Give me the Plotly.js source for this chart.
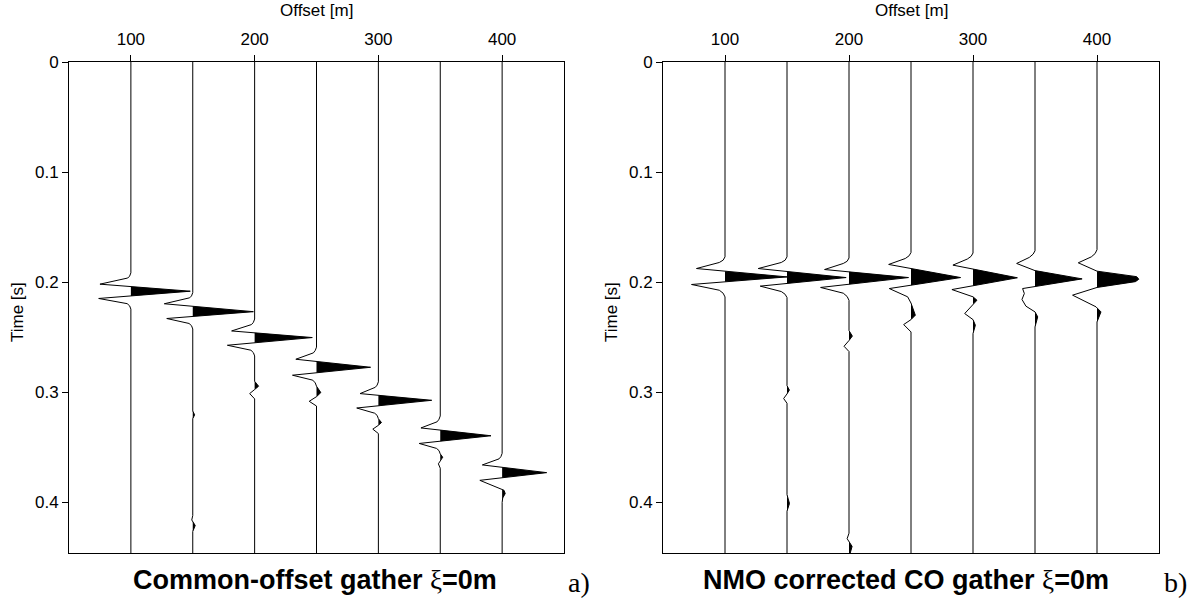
<!DOCTYPE html>
<html>
<head>
<meta charset="utf-8">
<script src="https://cdn.plot.ly/plotly-3.0.1.min.js"></script>
<style>
  html, body { margin: 0; padding: 0; background: #fff; }
  #chart { width: 1192px; height: 600px; }
</style>
</head>
<body>
<div id="chart"></div>
<script>
// Trace positions (offset in m) shared by both gathers
const offsets = [100, 150, 200, 250, 300, 350, 400];

// Common-offset gather: sample times [s] and trace amplitudes [m of offset axis]
const coTimes = [
  [0, 0.1915, 0.1945, 0.1962, 0.2018, 0.2082, 0.2148, 0.2195, 0.2215, 0.2245, 0.446],
  [0, 0.2095, 0.2125, 0.2142, 0.2196, 0.2268, 0.2330, 0.2375, 0.2395, 0.2425, 0.3170, 0.3205, 0.3240, 0.4120, 0.4160, 0.4210, 0.4265, 0.446],
  [0, 0.2335, 0.2365, 0.2385, 0.2443, 0.2503, 0.2573, 0.2618, 0.2640, 0.2670, 0.2900, 0.2945, 0.2975, 0.3012, 0.3060, 0.446],
  [0, 0.2590, 0.2620, 0.2642, 0.2700, 0.2773, 0.2845, 0.2890, 0.2915, 0.2945, 0.3003, 0.3040, 0.3082, 0.3125, 0.446],
  [0, 0.2905, 0.2935, 0.2955, 0.3012, 0.3073, 0.3143, 0.3190, 0.3210, 0.3240, 0.3275, 0.3300, 0.3335, 0.3375, 0.446],
  [0, 0.3215, 0.3245, 0.3268, 0.3324, 0.3395, 0.3465, 0.3510, 0.3530, 0.3560, 0.3590, 0.3620, 0.3650, 0.3690, 0.446],
  [0, 0.3555, 0.3585, 0.3605, 0.3660, 0.3730, 0.3800, 0.3890, 0.3920, 0.3960, 0.4000, 0.446]
];
const coAmps = [
  [0, 0, -1.0, -2.5, -25, 48, -26, -3.0, -1.0, 0, 0],
  [0, 0, -1.0, -2.5, -23, 49, -21, -3.0, -1.0, 0, 0, 1.5, 0, 0, -0.8, 2.0, 0, 0],
  [0, 0, -1.0, -2.5, -18.6, 46.6, -22, -3.0, -1.0, 0, 0, 3.2, 0, -4.0, 0, 0],
  [0, 0, -1.0, -2.5, -16.7, 43.7, -19.4, -3.0, -1.0, 0, 3.5, 0, -5.9, 0, 0],
  [0, 0, -1.0, -2.5, -14.8, 43.1, -17.5, -3.0, -1.0, 0, 2.5, 0, -4.5, 0, 0],
  [0, 0, -1.0, -2.5, -15.6, 41, -17, -3.0, -1.0, 0, 2.0, 0, -1.5, 0, 0],
  [0, 0, -1.0, -2.5, -16, 36, -18, 1.5, 2.5, 0.5, 0, 0]
];

// NMO-corrected common-offset gather
const nmoTimes = [
  [0, 0.1770, 0.1800, 0.1821, 0.1876, 0.1952, 0.2021, 0.2073, 0.2100, 0.2134, 0.446],
  [0, 0.1770, 0.1800, 0.1821, 0.1876, 0.1958, 0.2036, 0.2085, 0.2110, 0.2140, 0.2940, 0.2980, 0.3015, 0.3057, 0.3100, 0.3930, 0.4010, 0.4080, 0.446],
  [0, 0.1780, 0.1810, 0.1830, 0.1885, 0.1958, 0.2048, 0.2100, 0.2130, 0.2165, 0.2440, 0.2490, 0.2530, 0.2582, 0.2630, 0.4280, 0.4330, 0.4400, 0.446],
  [0, 0.1730, 0.1760, 0.1785, 0.1839, 0.1958, 0.2058, 0.2133, 0.2190, 0.2300, 0.2340, 0.2385, 0.2452, 0.446],
  [0, 0.1735, 0.1765, 0.1790, 0.1845, 0.1960, 0.2067, 0.2133, 0.2164, 0.2200, 0.2285, 0.2340, 0.2391, 0.2467, 0.446],
  [0, 0.1715, 0.1745, 0.1775, 0.1830, 0.1895, 0.1970, 0.2058, 0.2103, 0.2157, 0.2218, 0.2270, 0.2315, 0.2406, 0.446],
  [0, 0.1705, 0.1740, 0.1770, 0.1824, 0.1900, 0.1950, 0.1973, 0.1995, 0.2048, 0.2118, 0.2224, 0.2270, 0.2361, 0.446]
];
const nmoAmps = [
  [0, 0, -1.5, -4.6, -23, 50, -27, -4.6, -1.5, 0, 0],
  [0, 0, -1.5, -4.6, -23.2, 47.7, -21.6, -4.6, -1.5, 0, 0, 1.9, 0, -2.7, 0, 0, 2.0, 0, 0],
  [0, 0, -1.5, -4.6, -19.7, 48, -22.9, -4.6, -1.5, 0, 0, 2.7, 0, -4.0, 0, 0, -1.5, 2.5, 1.0],
  [0, 0, -1.5, -4.6, -18, 40, -17.5, -2.7, 0, 3.5, 0, -5.9, 0, 0],
  [0, 0, -1.5, -4.6, -16.2, 35.8, -17, 0, 3.2, 0, -6.7, 0, 1.9, 0, 0],
  [0, 0, -1.5, -4.6, -14.8, 0, 38, -10, -8.6, -10.5, -7.3, 0, 2.2, 0, 0],
  [0, 0, -1.5, -4.6, -15.1, 0, 32, 33.7, 31, 0, -19.7, -0.8, 3.2, 0, 0]
];

// Axis tick values and labels
const offsetTicks = [100, 200, 300, 400];
const timeTicks = [0, 0.1, 0.2, 0.3, 0.4];
const timeTickText = ['0', '0.1', '0.2', '0.3', '0.4'];

const FONT = 'Liberation Sans, Arial, Helvetica, sans-serif';
const SERIF = 'Liberation Serif, Times New Roman, serif';

// Polygon of the positive (right-hand) lobes of one trace, closed on its baseline
function positiveLobes(off, t, a) {
  const xs = [], ys = [];
  for (let i = 0; i < t.length; i++) {
    if (i > 0 && ((a[i - 1] > 0 && a[i] < 0) || (a[i - 1] < 0 && a[i] > 0))) {
      const tc = t[i - 1] + (0 - a[i - 1]) * (t[i] - t[i - 1]) / (a[i] - a[i - 1]);
      xs.push(off); ys.push(tc);
    }
    xs.push(off + Math.max(a[i], 0)); ys.push(t[i]);
  }
  xs.push(off); ys.push(t[t.length - 1]);
  xs.push(off); ys.push(t[0]);
  return { xs, ys };
}

function gatherTraces(times, amps, xa, ya) {
  const out = [];
  offsets.forEach((off, k) => {
    const lobe = positiveLobes(off, times[k], amps[k]);
    out.push({
      x: lobe.xs, y: lobe.ys, xaxis: xa, yaxis: ya,
      type: 'scatter', mode: 'lines', fill: 'toself',
      fillcolor: '#000', line: { width: 0, color: '#000' },
      hoverinfo: 'skip', showlegend: false
    });
    out.push({
      x: amps[k].map(v => off + v), y: times[k], xaxis: xa, yaxis: ya,
      type: 'scatter', mode: 'lines',
      line: { color: '#000', width: 1 },
      hoverinfo: 'skip', showlegend: false
    });
  });
  return out;
}

const data = gatherTraces(coTimes, coAmps, 'x', 'y')
  .concat(gatherTraces(nmoTimes, nmoAmps, 'x2', 'y2'));

const W = 1192, H = 600;
const px = v => v / W;
const py = v => 1 - v / H;

const xCommon = {
  range: [50, 450], side: 'top', tickvals: offsetTicks,
  ticks: 'outside', ticklen: 6, tickwidth: 1, tickcolor: '#000',
  ticklabelstandoff: 3,
  showline: true, linecolor: '#000', linewidth: 1, mirror: true,
  showgrid: false, zeroline: false, automargin: false,
  tickfont: { family: FONT, size: 17, color: '#000' }, fixedrange: true
};
const yCommon = {
  range: [0.446, 0], tickvals: timeTicks, ticktext: timeTickText,
  ticks: 'outside', ticklen: 6, tickwidth: 1, tickcolor: '#000',
  showline: true, linecolor: '#000', linewidth: 1, mirror: true,
  showgrid: false, zeroline: false, automargin: false,
  tickfont: { family: FONT, size: 17, color: '#000' }, fixedrange: true
};

const yDomain = [py(553), py(62)];

function label(text, x, y, font, extra) {
  return Object.assign({
    text, x: px(x), y: py(y), xref: 'paper', yref: 'paper',
    xanchor: 'center', yanchor: 'middle', showarrow: false, font
  }, extra || {});
}

const axisFont = { family: FONT, size: 17, color: '#000' };
const titleFont = { family: FONT, size: 27, color: '#000' };
const tagFont = { family: SERIF, size: 28, color: '#000' };
const xi = '<span style="font-family:' + SERIF + ';font-weight:normal">ξ</span>';

const layout = {
  width: W, height: H,
  margin: { l: 0, r: 0, t: 0, b: 0 },
  paper_bgcolor: '#fff', plot_bgcolor: '#fff',
  showlegend: false,
  xaxis: Object.assign({}, xCommon, { domain: [px(69), px(564)], anchor: 'y' }),
  yaxis: Object.assign({}, yCommon, { domain: yDomain, anchor: 'x' }),
  xaxis2: Object.assign({}, xCommon, { domain: [px(663), px(1159)], anchor: 'y2' }),
  yaxis2: Object.assign({}, yCommon, { domain: yDomain, anchor: 'x2' }),
  annotations: [
    label('Offset [m]', 316.5, 11, axisFont),
    label('Offset [m]', 911, 11, axisFont),
    label('Time [s]', 17, 312, axisFont, { textangle: -90 }),
    label('Time [s]', 611, 312, axisFont, { textangle: -90 }),
    label('<b>Common-offset gather </b>' + xi + '<b>=0m</b>', 315, 580, titleFont),
    label('<b>NMO corrected CO gather </b>' + xi + '<b>=0m</b>', 906, 580, titleFont),
    label('a)', 579, 582, tagFont),
    label('b)', 1175, 582, tagFont)
  ]
};

Plotly.newPlot('chart', data, layout, { staticPlot: true, displayModeBar: false });
</script>
</body>
</html>
